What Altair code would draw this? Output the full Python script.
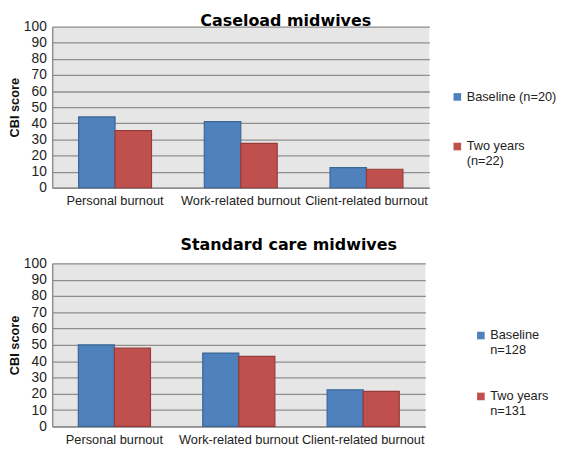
import altair as alt
import pandas as pd

categories = ["Personal burnout", "Work-related burnout", "Client-related burnout"]

caseload_series = ["Baseline (n=20)", "Two years\n(n=22)"]
caseload_baseline = [44, 41, 12.5]
caseload_two_years = [35.5, 27.5, 11.5]

standard_series = ["Baseline\nn=128", "Two years\nn=131"]
standard_baseline = [50, 45, 22.5]
standard_two_years = [48, 43, 21.5]

y_ticks = list(range(0, 101, 10))

FILL = ["#4F81BD", "#C0504D"]
EDGE = ["#3A6698", "#983B38"]
GRID = "#8E8E8E"


def panel(title, series, baseline, two_years, w, h, lx, ly, rowpad, toff, tdx):
    rows = []
    for c, b, t in zip(categories, baseline, two_years):
        rows.append({"category": c, "series": series[0], "value": b})
        rows.append({"category": c, "series": series[1], "value": t})
    df = pd.DataFrame(rows)
    return alt.Chart(df).mark_bar(strokeWidth=1.2).encode(
        x=alt.X("category:N", sort=categories,
                scale=alt.Scale(paddingInner=0.42, paddingOuter=0.21),
                axis=alt.Axis(title=None, labelAngle=0, ticks=False, labelPadding=7,
                              labelFontSize=13, labelColor="#222222",
                              domainColor=GRID, domainWidth=1.5)),
        xOffset=alt.XOffset("series:N", sort=series,
                            scale=alt.Scale(paddingInner=0, paddingOuter=0)),
        y=alt.Y("value:Q", scale=alt.Scale(domain=[0, 100]),
                axis=alt.Axis(values=y_ticks, title="CBI score", titleFontSize=13,
                              titleFontWeight="bold", titleColor="#111111", titlePadding=2,
                              labelFontSize=14, labelColor="#222222", labelPadding=6,
                              ticks=False, grid=True, gridColor=GRID, gridWidth=1.3,
                              domainColor=GRID, domainWidth=1.5)),
        color=alt.Color("series:N", sort=series,
                        scale=alt.Scale(domain=series, range=FILL),
                        legend=alt.Legend(title=None, orient="none", legendX=lx, legendY=ly,
                                          symbolType="square", symbolSize=60,
                                          symbolStrokeWidth=0, labelFontSize=13,
                                          labelColor="#222222", padding=0,
                                          rowPadding=rowpad, labelOffset=3,
                                          labelExpr="split(datum.label, '\\n')")),
        stroke=alt.Stroke("series:N", sort=series,
                          scale=alt.Scale(domain=series, range=EDGE), legend=None),
    ).properties(
        width=w, height=h,
        title=alt.TitleParams(title, font="DejaVu Sans", fontSize=16.2, fontWeight="bold",
                              frame="bounds", anchor="middle", color="#000000",
                              offset=toff, dx=tdx),
    )


top = panel("Caseload midwives", caseload_series, caseload_baseline, caseload_two_years,
            384, 164, 406, 65, 36.5, -9, 3)
bottom = panel("Standard care midwives", standard_series, standard_baseline, standard_two_years,
               380, 166, 430, 67, 33, 3, 10)

chart = alt.vconcat(top, bottom, spacing=30).resolve_scale(
    color="independent", stroke="independent", xOffset="independent"
).configure(font="Liberation Sans", padding=0).configure_view(
    fill="#E6E6E6", stroke=None
)

chart.save("out.html", embed_options={"renderer": "svg", "actions": False})
